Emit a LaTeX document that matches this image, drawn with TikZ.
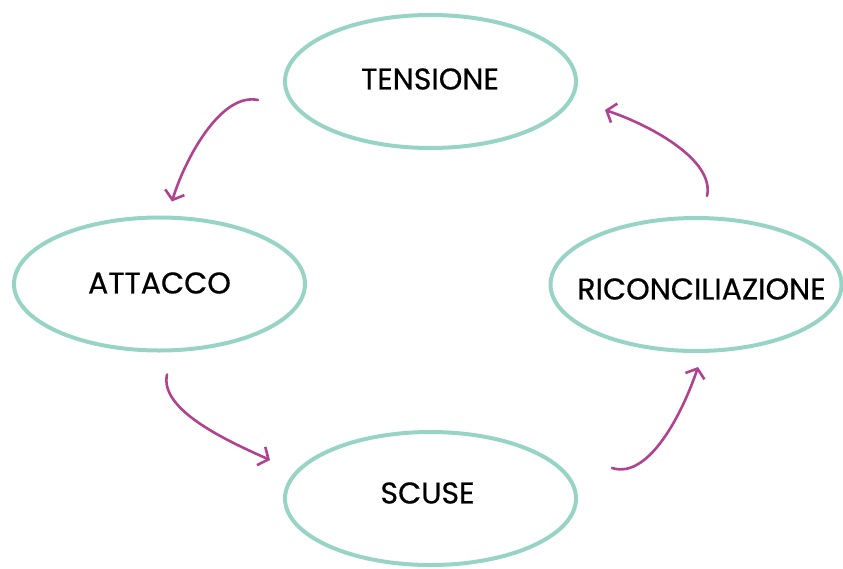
\documentclass[tikz,border=0pt]{standalone}
\usepackage{fontspec}
\setmainfont{Poppins}
\newfontfamily\stagefont{Poppins}[FakeBold=0.5]
\usetikzlibrary{shapes.geometric,arrows.meta}
\definecolor{ringteal}{HTML}{98D4C6}
\definecolor{flowmag}{HTML}{B0428F}
\begin{document}
\begin{tikzpicture}[x=1pt,y=-1pt,
  stage/.style={ellipse,draw=ringteal,line width=4pt,fill=white,
    minimum width=291pt,minimum height=133pt,inner sep=0pt},
  stagetext/.style={font=\stagefont\fontsize{30}{34}\selectfont,text=black,inner sep=0pt},
  flow/.style={draw=flowmag,line width=2.6pt,line cap=round,
    -{Straight Barb[length=8pt,width=20pt,line width=2.6pt]}}]
\useasboundingbox (0,0) rectangle (843,568);
% the four stages of the cycle
\node[stage] (tensione) at (430.5,81.5) {};
\node[stage] (attacco)  at (159.5,284)  {};
\node[stage] (riconc)   at (696,284.5)  {};
\node[stage] (scuse)    at (430.5,498.5) {};
\node[stagetext] (tTens)  at (430,79)   {TENSIONE};
\node[stagetext] (tAtt)   at (159.5,283) {ATTACCO};
\node[stagetext] (tRic)   at (701.5,289) {RICONCILIAZIONE};
\node[stagetext] (tScu)   at (427.5,493) {SCUSE};
% curved arrows between the stages
\draw[flow] ([shift={(-25,18.5)}]tensione.west)
  .. controls +(-38,-8) and +(12,-40) .. ([shift={(12.5,-14)}]attacco.north);
\draw[flow] ([shift={(7.5,22)}]attacco.south)
  .. controls +(-8,36) and +(-40,-18) .. ([shift={(-13,-38.5)}]scuse.west);
\draw[flow] ([shift={(34,-30.5)}]scuse.east)
  .. controls +(38,12) and +(-14,42) .. ([shift={(2,14)}]riconc.south);
\draw[flow] ([shift={(11,-20)}]riconc.north)
  .. controls +(8,-36) and +(45,15) .. ([shift={(27,28.5)}]tensione.east);
\end{tikzpicture}
\end{document}
